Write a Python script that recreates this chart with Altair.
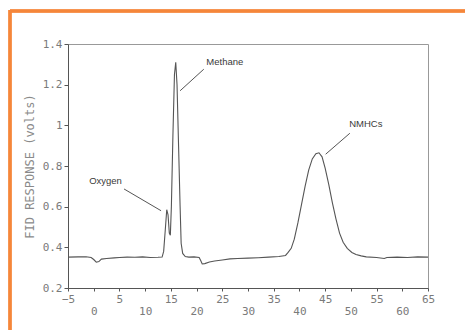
import altair as alt
import pandas as pd

# Chromatogram trace
time_min = [-5, -3, -1.5, -0.5, 0, 0.5, 1.0, 1.5, 2.5, 4, 5, 6.5, 8, 9.5, 11, 12.5,
            13.3, 13.6, 13.9, 14.2, 14.45, 14.7, 14.9, 15.1, 15.4, 15.7, 15.95, 16.2,
            16.5, 16.8, 17.0, 17.3, 17.8, 18.5, 19.5, 20.5, 20.8, 21.1, 21.6, 22.5,
            23.5, 25, 26.5, 28, 30, 32, 34, 36, 37.3, 37.8, 38.4, 39, 39.7, 40.4, 41.1,
            41.8, 42.5, 43.2, 43.8, 44.4, 45.0, 45.7, 46.4, 47.1, 47.8, 48.5, 49.3,
            50.2, 51, 52, 53, 55, 56.5, 57, 59, 61, 63, 65]
response = [0.352, 0.353, 0.354, 0.350, 0.340, 0.327, 0.330, 0.342, 0.345, 0.348, 0.350,
            0.352, 0.351, 0.353, 0.350, 0.351, 0.352, 0.380, 0.480, 0.585, 0.560, 0.470,
            0.460, 0.600, 0.950, 1.250, 1.310, 1.200, 0.900, 0.600, 0.420, 0.370, 0.355,
            0.352, 0.353, 0.350, 0.335, 0.318, 0.320, 0.328, 0.333, 0.338, 0.343, 0.345,
            0.347, 0.349, 0.352, 0.355, 0.360, 0.375, 0.395, 0.440, 0.520, 0.610, 0.700,
            0.780, 0.835, 0.860, 0.865, 0.845, 0.790, 0.710, 0.620, 0.540, 0.470, 0.425,
            0.395, 0.375, 0.365, 0.358, 0.353, 0.350, 0.345, 0.350, 0.352, 0.350, 0.353,
            0.352]

# Annotations
ann_text = ["Oxygen", "Methane", "NMHCs"]
ann_tx = [2.3, 25.5, 52.9]
ann_ty = [0.726, 1.31, 1.007]
lead_x1 = [5.9, 21.4, 49.8]
lead_y1 = [0.687, 1.276, 0.961]
lead_x2 = [13.1, 16.8, 45.1]
lead_y2 = [0.580, 1.170, 0.858]

x_ticks = list(range(-5, 66, 5))
x_labels_row1 = list(range(-5, 66, 10))
x_labels_row2 = list(range(0, 61, 10))
y_ticks = [0.2, 0.4, 0.6, 0.8, 1.0, 1.2, 1.4]

trace = pd.DataFrame({"t": time_min, "v": response})
ann = pd.DataFrame({"label": ann_text, "tx": ann_tx, "ty": ann_ty,
                    "x1": lead_x1, "y1": lead_y1, "x2": lead_x2, "y2": lead_y2})

AXIS_FONT = "DejaVu Sans Mono"
LABEL_COLOR = "#7a7a7a"
xscale = alt.Scale(domain=[-5, 65], nice=False, zero=False)
yscale = alt.Scale(domain=[0.2, 1.4], nice=False, zero=False)

line = alt.Chart(trace).mark_line(color="#555555", strokeWidth=1.1).encode(
    x=alt.X("t:Q", scale=xscale, title=None,
            axis=alt.Axis(orient="bottom", values=x_ticks, grid=False, tickSize=3,
                          labelPadding=2, labelFont=AXIS_FONT, labelFontSize=11,
                          labelColor=LABEL_COLOR, domainColor="#555555",
                          tickColor="#555555", labelFlush=False, labelOverlap=False,
                          labelExpr="indexof(" + str(x_labels_row1) + ", datum.value) >= 0 ? datum.label : ''")),
    y=alt.Y("v:Q", scale=yscale, title="FID RESPONSE (volts)",
            axis=alt.Axis(values=y_ticks, grid=False, tickSize=4, labelPadding=2,
                          format="~g", labelFont=AXIS_FONT, labelFontSize=11,
                          labelColor=LABEL_COLOR, domainColor="#555555",
                          tickColor="#555555", labelFlush=False,
                          titleFont=AXIS_FONT, titleFontSize=12, titleColor="#8a8a8a",
                          titleFontWeight="normal", titlePadding=6)),
)

row2 = alt.Chart(trace).mark_line(opacity=0).encode(
    x=alt.X("t:Q", scale=xscale, title=None,
            axis=alt.Axis(orient="bottom", values=x_labels_row2, grid=False, ticks=False,
                          domain=False, labelPadding=17, labelFont=AXIS_FONT,
                          labelFontSize=11, labelColor=LABEL_COLOR, labelFlush=False,
                          labelOverlap=False)),
    y=alt.Y("v:Q", scale=yscale),
)

leaders = alt.Chart(ann).mark_rule(color="#555555", strokeWidth=1).encode(
    x=alt.X("x1:Q", scale=xscale, axis=None), y=alt.Y("y1:Q", scale=yscale),
    x2="x2:Q", y2="y2:Q",
)

labels = alt.Chart(ann).mark_text(font="Liberation Sans", fontSize=9.5, color="#3a3a3a").encode(
    x=alt.X("tx:Q", scale=xscale, axis=None), y=alt.Y("ty:Q", scale=yscale),
    text="label:N",
)

frame_top = alt.Chart(ann).mark_rule(color="#f5863a", strokeWidth=3).encode(
    x=alt.value(-58), x2=alt.value(420), y=alt.value(-33))
frame_left = alt.Chart(ann).mark_rule(color="#f5863a", strokeWidth=3).encode(
    x=alt.value(-58), y=alt.value(-34), y2=alt.value(300))

chart = alt.layer(line, row2, leaders, labels, frame_top, frame_left).resolve_axis(
    x="independent"
).properties(
    width=360, height=244,
    autosize=alt.AutoSizeParams(type="none"),
    padding={"left": 68, "top": 44, "right": 37, "bottom": 42},
    background="#ffffff",
).configure_view(stroke="#999999", strokeWidth=1)

chart.save("out.html", embed_options={"renderer": "svg", "actions": False})
